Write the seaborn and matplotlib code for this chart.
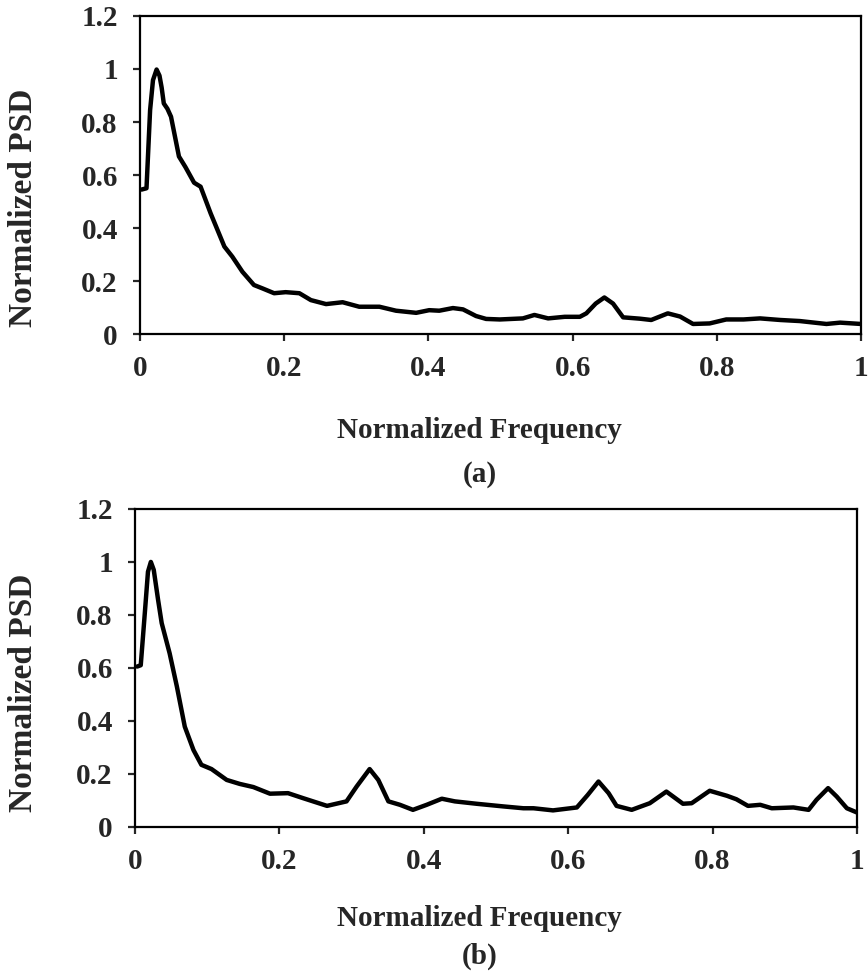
import seaborn as sns
import matplotlib.pyplot as plt
import pandas as pd
import numpy as np

# panel (a)
freq_a = [0.002, 0.009, 0.014, 0.018, 0.023, 0.027, 0.030, 0.033, 0.038, 0.043,
          0.054, 0.063, 0.075, 0.084, 0.098, 0.117, 0.128, 0.142, 0.158, 0.17,
          0.186, 0.202, 0.221, 0.237, 0.258, 0.281, 0.304, 0.332, 0.355, 0.383,
          0.401, 0.415, 0.434, 0.448, 0.466, 0.48, 0.499, 0.531, 0.547, 0.566,
          0.589, 0.61, 0.619, 0.632, 0.644, 0.656, 0.67, 0.693, 0.709, 0.732,
          0.749, 0.767, 0.79, 0.813, 0.837, 0.86, 0.888, 0.915, 0.952, 0.971, 1.0]
psd_a = [0.545, 0.55, 0.845, 0.958, 0.998, 0.975, 0.93, 0.87, 0.85, 0.82,
         0.67, 0.63, 0.571, 0.556, 0.455, 0.33, 0.292, 0.235, 0.185, 0.172,
         0.154, 0.158, 0.154, 0.128, 0.113, 0.12, 0.103, 0.103, 0.088, 0.08,
         0.09, 0.088, 0.098, 0.093, 0.068, 0.057, 0.055, 0.059, 0.072, 0.059,
         0.065, 0.065, 0.078, 0.115, 0.138, 0.115, 0.063, 0.058, 0.053, 0.078,
         0.066, 0.038, 0.04, 0.055, 0.055, 0.059, 0.053, 0.049, 0.038, 0.043, 0.038]

# panel (b)
freq_b = [0.003, 0.008, 0.014, 0.018, 0.022, 0.026, 0.032, 0.037, 0.048, 0.058,
          0.069, 0.081, 0.092, 0.106, 0.127, 0.145, 0.164, 0.187, 0.212, 0.233,
          0.266, 0.293, 0.307, 0.325, 0.337, 0.351, 0.367, 0.385, 0.404, 0.425,
          0.443, 0.473, 0.51, 0.538, 0.552, 0.579, 0.612, 0.627, 0.642, 0.656,
          0.667, 0.688, 0.713, 0.736, 0.759, 0.771, 0.796, 0.82, 0.833, 0.849,
          0.866, 0.882, 0.912, 0.933, 0.944, 0.96, 0.972, 0.986, 1.0]
psd_b = [0.605, 0.61, 0.82, 0.963, 1.0, 0.97, 0.857, 0.769, 0.655, 0.53,
         0.378, 0.29, 0.234, 0.218, 0.177, 0.162, 0.15, 0.125, 0.127, 0.108,
         0.079, 0.096, 0.152, 0.218, 0.177, 0.096, 0.083, 0.064, 0.083, 0.106,
         0.096, 0.087, 0.077, 0.07, 0.07, 0.062, 0.073, 0.12, 0.171, 0.127,
         0.079, 0.064, 0.089, 0.133, 0.087, 0.089, 0.136, 0.117, 0.104, 0.079,
         0.083, 0.07, 0.073, 0.064, 0.102, 0.146, 0.114, 0.07, 0.054]

y_ticks = [0, 0.2, 0.4, 0.6, 0.8, 1, 1.2]
y_labels = ['0', '0.2', '0.4', '0.6', '0.8', '1', '1.2']
x_ticks = [0, 0.2, 0.4, 0.6, 0.8, 1]
x_labels = ['0', '0.2', '0.4', '0.6', '0.8', '1']

sns.set_style("ticks")
plt.rcParams['font.family'] = ['Liberation Serif', 'DejaVu Serif']
plt.rcParams['font.weight'] = 'bold'

fig = plt.figure(figsize=(8.68, 9.75), dpi=100)
ax_a = fig.add_axes([0.1613, 0.6574, 0.8307, 0.3262])
ax_b = fig.add_axes([0.1555, 0.152, 0.8318, 0.326])

# (axes, x, y, tag, ylabel y, xlabel y, tag y)
panels = [(ax_a, freq_a, psd_a, '(a)', 0.787, 0.558, 0.513),
          (ax_b, freq_b, psd_b, '(b)', 0.289, 0.058, 0.019)]
for ax, f, p, tag, yl, xl, ty in panels:
    df = pd.DataFrame({'freq': f, 'psd': p})
    sns.lineplot(data=df, x='freq', y='psd', ax=ax, color='black', linewidth=3.2,
                 solid_joinstyle='round', solid_capstyle='round')
    ax.set_xlim(0, 1)
    ax.set_ylim(0, 1.2)
    ax.set_xticks(x_ticks)
    ax.set_xticklabels(x_labels)
    ax.set_yticks(y_ticks)
    ax.set_yticklabels(y_labels)
    ax.tick_params(direction='out', length=5, width=1.6, labelsize=21)
    ax.tick_params(axis='x', pad=10)
    ax.tick_params(axis='y', pad=11)
    for lab in ax.get_xticklabels() + ax.get_yticklabels():
        lab.set_fontweight('bold')
    for s in ax.spines.values():
        s.set_linewidth(1.6)
        s.set_color('black')
    ax.set_xlabel('')
    ax.set_ylabel('')
    fig.text(0.552, xl, 'Normalized Frequency', fontsize=21, fontweight='bold',
             ha='center', va='center')
    fig.text(0.027, yl, 'Normalized PSD', fontsize=24, fontweight='bold',
             rotation=90, ha='center', va='center')
    fig.text(0.553, ty, tag, fontsize=21, fontweight='bold', ha='center', va='center')

fig.savefig('out.png', dpi=100)
